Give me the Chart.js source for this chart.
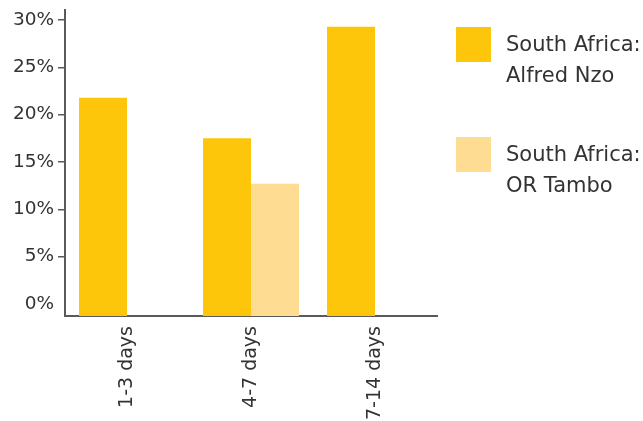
<!DOCTYPE html>
<html>
<head>
<meta charset="utf-8">
<script src="https://cdn.jsdelivr.net/npm/chart.js@4.4.1/dist/chart.umd.min.js"></script>
<style>
  html, body { margin: 0; padding: 0; background: #fff; }
  #wrap { width: 643px; height: 421px; }
</style>
</head>
<body>
<div id="wrap"><canvas id="c" width="643" height="421"></canvas></div>
<script>
// Share of cases by duration, two districts
const categories = ['1-3 days', '4-7 days', '7-14 days'];
const alfredNzo = [21.8, 17.5, 29.3];
const orTambo = [null, 12.7, null];
const seriesNames = [['South Africa:', 'Alfred Nzo'], ['South Africa:', 'OR Tambo']];
const seriesColors = ['#FEC60A', '#FEDD93'];
const yTicks = [0, 5, 10, 15, 20, 25, 30];

// value axis extends a little beyond the labelled range on both ends
const yMin = -1.27;
const yMax = 31.06;

const FONT = 'DejaVu Sans';
const TEXT = '#333333';
const AXIS = '#5a5a5a';

// Legend drawn at the right of the plot, two-line labels
const sideLegend = {
  id: 'sideLegend',
  afterDraw(chart) {
    const ctx = chart.ctx;
    ctx.save();
    ctx.font = '21px "' + FONT + '"';
    ctx.fillStyle = TEXT;
    ctx.textAlign = 'left';
    ctx.textBaseline = 'alphabetic';
    chart.data.datasets.forEach((ds, i) => {
      const top = 27 + i * 110;
      ctx.fillStyle = ds.backgroundColor;
      ctx.fillRect(456, top, 35, 35);
      ctx.fillStyle = TEXT;
      ds.label.forEach((line, j) => {
        ctx.fillText(line, 506, top + 24 + j * 31);
      });
    });
    ctx.restore();
  }
};

new Chart(document.getElementById('c'), {
  type: 'bar',
  data: {
    labels: categories,
    datasets: [
      { label: seriesNames[0], data: alfredNzo, backgroundColor: seriesColors[0], base: yMin },
      { label: seriesNames[1], data: orTambo, backgroundColor: seriesColors[1], base: yMin }
    ]
  },
  options: {
    responsive: false,
    animation: false,
    devicePixelRatio: 1,
    layout: { padding: { top: 10, right: 206, left: 0, bottom: 0 } },
    datasets: { bar: { categoryPercentage: 0.774, barPercentage: 1.0 } },
    plugins: {
      legend: { display: false },
      tooltip: { enabled: false }
    },
    scales: {
      x: {
        grid: { display: true, drawOnChartArea: false, drawTicks: false, color: 'transparent' },
        border: { display: true, color: AXIS, width: 2 },
        ticks: {
          color: TEXT,
          font: { family: FONT, size: 19 },
          minRotation: 90,
          maxRotation: 90,
          padding: 10
        },
        afterFit(scale) {
          scale.height = 105;
          scale.paddingLeft = 0;
          scale.paddingRight = 0;
        }
      },
      y: {
        min: yMin,
        max: yMax,
        afterBuildTicks(scale) { scale.ticks = yTicks.map(v => ({ value: v })); },
        grid: {
          drawOnChartArea: false,
          drawTicks: true,
          tickLength: 7,
          lineWidth: 1.5,
          color: (c) => (c.tick && c.tick.value === 0) ? 'rgba(0,0,0,0)' : AXIS
        },
        border: { display: true, color: AXIS, width: 2 },
        ticks: {
          color: TEXT,
          font: { family: FONT, size: 18.5 },
          padding: 4,
          callback: (v) => v + '%'
        },
        afterFit(scale) {
          scale.width = 65;
          scale.paddingTop = 0;
          scale.paddingBottom = 0;
        }
      }
    }
  },
  plugins: [sideLegend]
});
</script>
</body>
</html>
